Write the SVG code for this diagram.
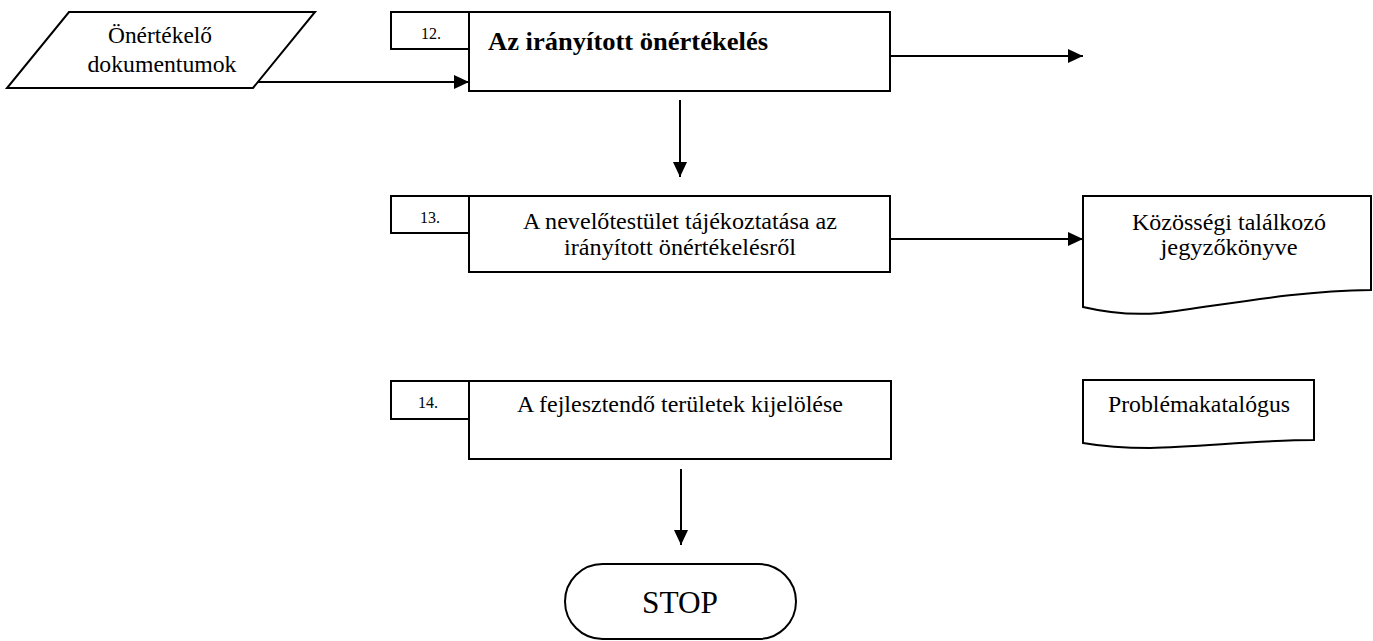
<svg xmlns="http://www.w3.org/2000/svg" width="1373" height="641" viewBox="0 0 1373 641">
<style>
.s{fill:#fff;stroke:#000;stroke-width:2}
.c{fill:none;stroke:#000;stroke-width:2}
text{font-family:"Liberation Serif","Times New Roman",serif;fill:#000}
.t{font-size:23px;text-anchor:middle}
.n{font-size:16px;text-anchor:middle}
</style>
<defs>
<marker id="ah" markerUnits="userSpaceOnUse" markerWidth="16" markerHeight="14" refX="15" refY="7" orient="auto">
<path d="M0,0 L15,7 L0,14 Z" fill="#000"/>
</marker>
</defs>
<g id="input">
<polygon class="s" points="69,12 315,12 253,88 7,88"/>
<text class="t" x="160" y="43" textLength="104" lengthAdjust="spacingAndGlyphs">Önértékelő</text>
<text class="t" x="162" y="72" textLength="149" lengthAdjust="spacingAndGlyphs">dokumentumok</text>
</g>
<g id="step12">
<rect class="s" x="469" y="12" width="421" height="79"/>
<rect class="s" x="391" y="12" width="78" height="37"/>
<text class="n" x="431" y="39">12.</text>
<text x="488" y="50" font-size="25" font-weight="bold" textLength="280" lengthAdjust="spacingAndGlyphs">Az irányított önértékelés</text>
</g>
<g id="step13">
<rect class="s" x="469" y="196" width="421" height="76"/>
<rect class="s" x="391" y="196" width="78" height="37"/>
<text class="n" x="430" y="223">13.</text>
<text class="t" x="680" y="229" textLength="314" lengthAdjust="spacingAndGlyphs">A nevelőtestület tájékoztatása az</text>
<text class="t" x="680" y="255" textLength="232" lengthAdjust="spacingAndGlyphs">irányított önértékelésről</text>
</g>
<g id="step14">
<rect class="s" x="469" y="381" width="422" height="78"/>
<rect class="s" x="391" y="381" width="78" height="38"/>
<text class="n" x="428" y="408">14.</text>
<text class="t" x="680" y="412" textLength="326" lengthAdjust="spacingAndGlyphs">A fejlesztendő területek kijelölése</text>
</g>
<g id="doc1">
<path class="s" d="M1083,196 H1371 V290 C1290,291 1220,306 1160,313 C1125,316 1100,311 1083,307 Z"/>
<text class="t" x="1229" y="230" textLength="194" lengthAdjust="spacingAndGlyphs">Közösségi találkozó</text>
<text class="t" x="1229" y="255" textLength="137" lengthAdjust="spacingAndGlyphs">jegyzőkönyve</text>
</g>
<g id="doc2">
<path class="s" d="M1083,380 H1314 V440 C1260,440 1200,447 1150,448 C1120,448 1100,446 1083,443 Z"/>
<text class="t" x="1199" y="412" textLength="182" lengthAdjust="spacingAndGlyphs">Problémakatalógus</text>
</g>
<g id="stop">
<rect class="s" x="565" y="564" width="231" height="75" rx="37.5"/>
<text x="680" y="613" font-size="31" text-anchor="middle" textLength="76" lengthAdjust="spacingAndGlyphs">STOP</text>
</g>
<g id="connectors">
<line class="c" x1="258" y1="82" x2="469" y2="82" marker-end="url(#ah)"/>
<line class="c" x1="890" y1="56" x2="1083" y2="56" marker-end="url(#ah)"/>
<line class="c" x1="680" y1="100" x2="680" y2="177" marker-end="url(#ah)"/>
<line class="c" x1="890" y1="239" x2="1083" y2="239" marker-end="url(#ah)"/>
<line class="c" x1="681" y1="469" x2="681" y2="545" marker-end="url(#ah)"/>
</g>
</svg>
